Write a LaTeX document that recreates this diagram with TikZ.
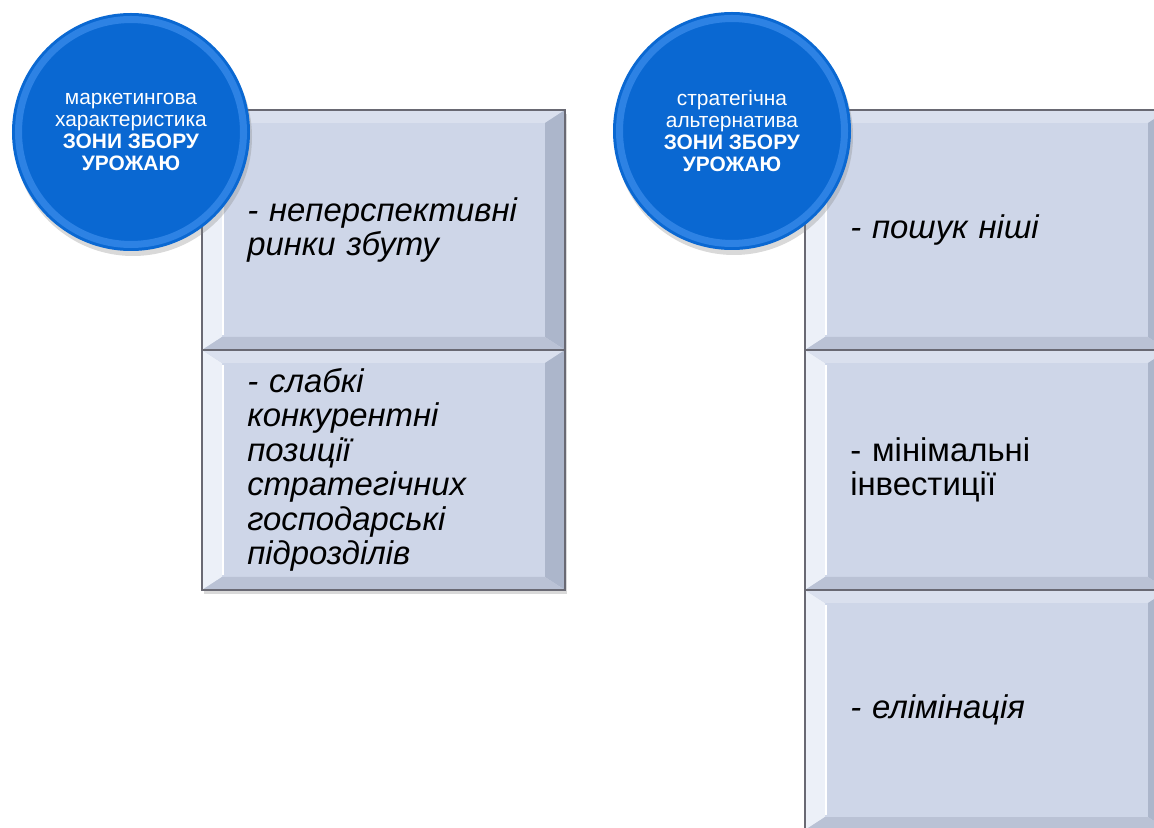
\documentclass[tikz,border=0pt]{standalone}
\usepackage{fontspec}
\setmainfont{Liberation Sans}
\usetikzlibrary{positioning,shadows}
\definecolor{boxfill}{RGB}{206,214,232}
\definecolor{boxedge}{RGB}{105,105,115}
\definecolor{bevleft}{RGB}{236,240,248}
\definecolor{bevtop}{RGB}{218,224,238}
\definecolor{bevright}{RGB}{172,182,203}
\definecolor{bevbottom}{RGB}{186,194,213}
\definecolor{circblue}{RGB}{10,104,210}
\definecolor{circrim}{RGB}{45,130,228}
\tikzset{
  bevelbox/.style={rectangle, draw=boxedge, line width=1pt, fill=boxfill, outer sep=0pt,
    minimum width=7.26cm, minimum height=4.8cm, text width=5.45cm, align=left,
    font=\fontsize{18.7}{19.6}\selectfont,
    drop shadow={opacity=0.3, shadow xshift=0.03cm, shadow yshift=-0.08cm},
    path picture={
      \fill[bevleft] (path picture bounding box.south west) -- (path picture bounding box.north west)
        -- ++(0.4,-0.26) -- ([shift={(0.4,0.26)}]path picture bounding box.south west) -- cycle;
      \fill[bevtop] (path picture bounding box.north west) -- (path picture bounding box.north east)
        -- ++(-0.4,-0.26) -- ([shift={(0.4,-0.26)}]path picture bounding box.north west) -- cycle;
      \fill[bevright] (path picture bounding box.north east) -- (path picture bounding box.south east)
        -- ++(-0.4,0.26) -- ([shift={(-0.4,-0.26)}]path picture bounding box.north east) -- cycle;
      \fill[bevbottom] (path picture bounding box.south east) -- (path picture bounding box.south west)
        -- ++(0.4,0.26) -- ([shift={(-0.4,0.26)}]path picture bounding box.south east) -- cycle;
      \draw[white, line width=1.5pt] ([shift={(0.42,0.3)}]path picture bounding box.south west)
        -- ([shift={(0.42,-0.3)}]path picture bounding box.north west);
    }},
  zone/.style={circle, fill=circblue, minimum size=4.76cm, inner sep=0pt, align=center,
    text=white, font=\fontsize{11.9}{12.5}\selectfont,
    drop shadow={opacity=0.3, shadow xshift=0.04cm, shadow yshift=-0.1cm},
    path picture={
      \draw[circrim, line width=4pt] (path picture bounding box.center) circle (2.25cm);
    }}
}
\begin{document}
\begin{tikzpicture}
\useasboundingbox (0,0) rectangle (23.08,16.56);
% left column
\node[bevelbox] (mark1) at (7.67,11.96) {\itshape -~неперспективні\\ринки збуту};
\node[bevelbox, below=0pt of mark1] (mark2) {\itshape - слабкі конкурентні позиції стратегічних господарські підрозділів};
\node[zone] (markzone) at (2.62,13.92) {маркетингова\\характеристика\\\textbf{ЗОНИ ЗБОРУ}\\\textbf{УРОЖАЮ}};
% right column
\node[bevelbox] (alt1) at (19.73,11.96) {\itshape - пошук ніші};
\node[bevelbox, below=0pt of alt1] (alt2) {- мінімальні інвестиції};
\node[bevelbox, below=0pt of alt2] (alt3) {\itshape - елімінація};
\node[zone] (altzone) at (14.64,13.94) {стратегічна\\альтернатива\\\textbf{ЗОНИ ЗБОРУ}\\\textbf{УРОЖАЮ}};
\end{tikzpicture}
\end{document}
